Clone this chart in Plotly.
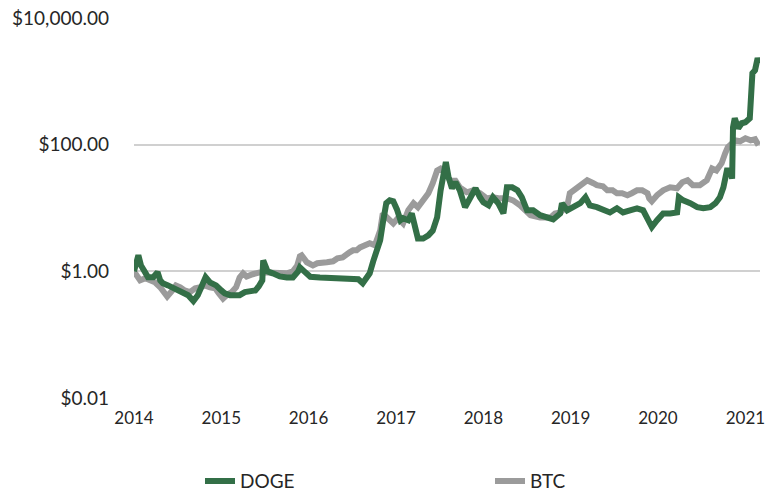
import pandas as pd
import plotly.graph_objects as go

# decimal-year time stamps and growth of $1
doge_t = [2014.00, 2014.02, 2014.05, 2014.08, 2014.13, 2014.16, 2014.22, 2014.27, 2014.30, 2014.33,
          2014.39, 2014.45, 2014.50, 2014.56, 2014.62, 2014.68, 2014.73, 2014.77, 2014.82, 2014.87,
          2014.94, 2015.00, 2015.04, 2015.10, 2015.16, 2015.21, 2015.27, 2015.33, 2015.39, 2015.43,
          2015.47, 2015.48, 2015.50, 2015.53, 2015.59, 2015.67, 2015.75, 2015.82, 2015.88, 2015.90,
          2015.95, 2016.02, 2016.13, 2016.25, 2016.36, 2016.47, 2016.57, 2016.62, 2016.66, 2016.70,
          2016.74, 2016.78, 2016.82, 2016.85, 2016.89, 2016.93, 2016.97, 2017.01, 2017.05, 2017.08,
          2017.14, 2017.18, 2017.22, 2017.25, 2017.31, 2017.37, 2017.42, 2017.47, 2017.51, 2017.54,
          2017.57, 2017.60, 2017.64, 2017.68, 2017.73, 2017.79, 2017.85, 2017.91, 2017.96, 2018.00,
          2018.06, 2018.11, 2018.17, 2018.23, 2018.27, 2018.33, 2018.39, 2018.44, 2018.50, 2018.57,
          2018.65, 2018.73, 2018.80, 2018.88, 2018.90, 2018.96, 2019.03, 2019.11, 2019.17, 2019.22,
          2019.30, 2019.37, 2019.45, 2019.53, 2019.60, 2019.68, 2019.76, 2019.83, 2019.89, 2019.93,
          2019.99, 2020.06, 2020.14, 2020.22, 2020.24, 2020.29, 2020.37, 2020.45, 2020.52, 2020.60,
          2020.66, 2020.71, 2020.75, 2020.79, 2020.83, 2020.85, 2020.86, 2020.88, 2020.92, 2020.96,
          2021.00, 2021.05, 2021.08, 2021.11, 2021.14, 2021.16]
doge_v = [1.00, 1.39, 1.79, 1.24, 0.97, 0.81, 0.81, 0.97, 0.72, 0.65,
          0.60, 0.54, 0.50, 0.47, 0.42, 0.34, 0.42, 0.56, 0.81, 0.67,
          0.60, 0.50, 0.45, 0.42, 0.42, 0.42, 0.47, 0.48, 0.50, 0.58,
          0.72, 1.49, 1.20, 1.00, 0.93, 0.83, 0.80, 0.80, 1.00, 1.16,
          1.00, 0.82, 0.80, 0.79, 0.79, 0.78, 0.75, 0.65, 0.80, 0.93,
          1.44, 2.15, 3.09, 5.73, 11.9, 13.2, 12.8, 9.5, 6.4, 6.9,
          6.4, 8.2, 4.4, 3.3, 3.3, 3.7, 4.4, 7.1, 19.0, 35.0,
          53.0, 31.0, 20.5, 25.5, 19.0, 10.3, 14.8, 20.5, 14.8, 12.3,
          11.0, 14.8, 11.9, 8.2, 21.2, 21.2, 19.0, 14.8, 9.2, 9.2,
          7.7, 6.9, 6.6, 8.2, 11.9, 9.2, 10.3, 11.9, 14.8, 11.0,
          10.3, 9.2, 8.5, 9.9, 8.5, 9.2, 9.9, 9.2, 6.2, 5.0,
          6.4, 8.2, 8.2, 8.5, 14.8, 13.2, 11.9, 10.3, 9.9, 10.3,
          11.9, 14.8, 21.2, 39.0, 39.0, 29.0, 188.0, 261.0, 182.0, 218.0,
          226.0, 261.0, 1343.0, 1497.0, 2317.0, 1932.0]

btc_t = [2014.00, 2014.02, 2014.07, 2014.13, 2014.18, 2014.24, 2014.30, 2014.34, 2014.38, 2014.44,
         2014.48, 2014.53, 2014.58, 2014.64, 2014.70, 2014.76, 2014.81, 2014.87, 2014.93, 2014.97,
         2015.02, 2015.07, 2015.12, 2015.17, 2015.21, 2015.25, 2015.29, 2015.36, 2015.44, 2015.52,
         2015.64, 2015.75, 2015.82, 2015.87, 2015.90, 2015.92, 2015.98, 2016.05, 2016.10, 2016.16,
         2016.21, 2016.28, 2016.33, 2016.39, 2016.44, 2016.47, 2016.51, 2016.55, 2016.59, 2016.62,
         2016.67, 2016.70, 2016.76, 2016.79, 2016.82, 2016.85, 2016.90, 2016.93, 2016.97, 2017.02,
         2017.08, 2017.14, 2017.20, 2017.25, 2017.31, 2017.37, 2017.42, 2017.47, 2017.51, 2017.56,
         2017.62, 2017.68, 2017.73, 2017.81, 2017.88, 2017.96, 2018.04, 2018.11, 2018.19, 2018.27,
         2018.34, 2018.42, 2018.54, 2018.65, 2018.77, 2018.82, 2018.88, 2018.96, 2018.99, 2019.07,
         2019.19, 2019.26, 2019.30, 2019.37, 2019.42, 2019.48, 2019.53, 2019.59, 2019.65, 2019.70,
         2019.76, 2019.82, 2019.88, 2019.90, 2019.93, 2019.99, 2020.06, 2020.14, 2020.22, 2020.28,
         2020.34, 2020.40, 2020.48, 2020.56, 2020.62, 2020.67, 2020.73, 2020.77, 2020.80, 2020.85,
         2020.88, 2020.94, 2021.00, 2021.06, 2021.11, 2021.15]
btc_v = [1.00, 0.90, 0.72, 0.78, 0.72, 0.67, 0.56, 0.45, 0.40, 0.50,
         0.60, 0.56, 0.50, 0.47, 0.54, 0.56, 0.60, 0.56, 0.54, 0.45,
         0.37, 0.43, 0.47, 0.56, 0.80, 0.93, 0.83, 0.90, 0.96, 0.96,
         0.93, 0.93, 1.00, 1.24, 1.73, 1.79, 1.39, 1.24, 1.34, 1.34,
         1.39, 1.44, 1.60, 1.66, 1.92, 2.00, 2.15, 2.15, 2.39, 2.48,
         2.77, 2.77, 2.57, 3.44, 4.4, 8.2, 6.9, 6.4, 5.7, 6.9,
         5.7, 9.2, 11.9, 10.3, 13.2, 17.1, 24.6, 39.0, 42.0, 37.0,
         27.0, 27.0, 21.2, 17.7, 19.0, 17.1, 14.2, 14.8, 14.2, 14.2,
         13.2, 11.0, 7.7, 7.1, 7.1, 8.2, 8.5, 10.6, 17.1, 21.2,
         27.4, 24.6, 22.9, 22.0, 19.0, 19.0, 17.1, 17.1, 15.9, 17.1,
         19.0, 19.0, 17.1, 14.2, 12.8, 15.9, 19.0, 21.2, 20.5, 25.5,
         27.4, 22.9, 22.9, 27.4, 42.0, 39.0, 51.0, 73.0, 91.0, 105.0,
         117.0, 113.0, 126.0, 117.0, 122.0, 98.0]

y_tickvals = [0.01, 1, 100, 10000]
y_ticktext = ["$0.01", "$1.00", "$100.00", "$10,000.00"]
x_ticklabels = ["2014", "2015", "2016", "2017", "2018", "2019", "2020", "2021"]


def to_dates(ts):
    out = []
    for t in ts:
        y = int(t)
        frac = t - y
        out.append(pd.Timestamp(year=y, month=1, day=1) + pd.Timedelta(days=frac * 365.25))
    return out


GREEN = "#336f47"
GRAY = "#9b9b9b"
FONT = "Lato"
TXT = "#262626"

fig = go.Figure()
fig.add_trace(go.Scatter(x=to_dates(btc_t), y=btc_v, name="BTC", mode="lines",
                         line=dict(color=GRAY, width=6), legend="legend2"))
fig.add_trace(go.Scatter(x=to_dates(doge_t), y=doge_v, name="DOGE", mode="lines",
                         line=dict(color=GREEN, width=6), legend="legend"))

leg_common = dict(orientation="h", xref="container", yref="container",
                  xanchor="left", yanchor="middle", y=0.02,
                  font=dict(family=FONT, size=19, color=TXT), bgcolor="rgba(0,0,0,0)")

fig.update_layout(
    width=781, height=491,
    margin=dict(l=134, r=21, t=18, b=93, autoexpand=False),
    paper_bgcolor="white", plot_bgcolor="white",
    font=dict(family=FONT, size=19, color=TXT),
    legend=dict(x=200 / 781, **leg_common),
    legend2=dict(x=490 / 781, **leg_common),
    showlegend=True,
)
fig.update_xaxes(
    type="date",
    range=[pd.Timestamp("2014-01-01"), pd.Timestamp("2021-03-03")],
    tickvals=[pd.Timestamp(year=int(s), month=1, day=1) for s in x_ticklabels],
    ticktext=x_ticklabels,
    showgrid=False, zeroline=False, showline=False,
    ticks="", ticklabelstandoff=8,
    tickfont=dict(size=17),
    automargin=False,
)
fig.update_yaxes(
    type="log", range=[-2, 4],
    tickvals=y_tickvals, ticktext=y_ticktext,
    showgrid=True, gridcolor="#d0d0d0", gridwidth=1.5,
    zeroline=False, showline=False, ticks="",
    ticklabelstandoff=24,
    tickfont=dict(size=19),
    automargin=False,
)

fig.write_html("out.html")
